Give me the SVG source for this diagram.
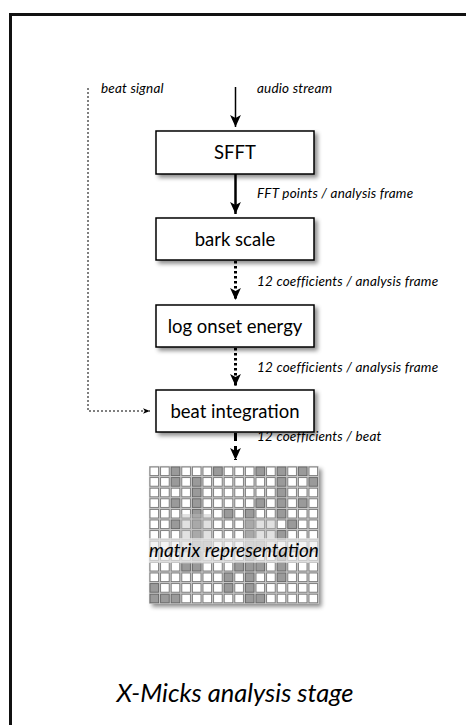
<svg xmlns="http://www.w3.org/2000/svg" width="466" height="725" viewBox="0 0 466 725">
<style>
.box{fill:#fff;stroke:#000;stroke-width:1.5}
.nt{font-family:Lato,"Open Sans",sans-serif;font-size:18.5px;fill:#000;text-anchor:middle}
.lb{font-family:Lato,"Open Sans",sans-serif;font-style:italic;font-size:13.5px;letter-spacing:0.2px;fill:#000}
.w{fill:#fff;stroke:#777;stroke-width:0.9}
.g{fill:#9a9a9a;stroke:#666;stroke-width:0.9}
</style>
<defs>
<filter id="sh" x="-10%" y="-10%" width="130%" height="150%">
<feGaussianBlur in="SourceAlpha" stdDeviation="2.2"/>
<feOffset dx="3" dy="3" result="b"/>
<feFlood flood-color="#000" flood-opacity="0.45"/>
<feComposite in2="b" operator="in"/>
<feMerge><feMergeNode/><feMergeNode in="SourceGraphic"/></feMerge>
</filter>
<marker id="ah" markerUnits="userSpaceOnUse" markerWidth="12" markerHeight="12" refX="10" refY="5" orient="auto" viewBox="0 0 10 10">
<path d="M0,0.5 L10,5 L0,9.5 L2.5,5 z" fill="#000"/>
</marker>
<marker id="as" markerUnits="userSpaceOnUse" markerWidth="7" markerHeight="7" refX="10" refY="5" orient="auto" viewBox="0 0 10 10">
<path d="M0,1 L10,5 L0,9 L2.5,5 z" fill="#000"/>
</marker>
</defs>
<path d="M10.5,725 V14.5 H466" fill="none" stroke="#111" stroke-width="3"/>

<g id="connectors" fill="none" stroke="#000">
<path d="M88,88 V411 H150" stroke-width="1" stroke-dasharray="2,2" marker-end="url(#as)"/>
<path d="M235.5,87 V127" stroke-width="1.5" marker-end="url(#ah)"/>
<path d="M235.5,174 V214" stroke-width="2.5" marker-end="url(#ah)"/>
<path d="M235.5,261 V300" stroke-width="3" stroke-dasharray="2.5,2.5" marker-end="url(#ah)"/>
<path d="M235.5,348 V386" stroke-width="3" stroke-dasharray="2.5,2.5" marker-end="url(#ah)"/>
<path d="M235.5,433 V460" stroke-width="3" stroke-dasharray="8,5" marker-end="url(#ah)"/>
</g>

<g id="labels">
<text class="lb" x="101" y="93">beat signal</text>
<text class="lb" x="257" y="93">audio stream</text>
<text class="lb" x="257" y="198">FFT points / analysis frame</text>
<text class="lb" x="257" y="286">12 coefficients / analysis frame</text>
<text class="lb" x="257" y="372">12 coefficients / analysis frame</text>
<text class="lb" x="257" y="441">12 coefficients / beat</text>
</g>

<g id="sfft"><rect class="box" x="156" y="131" width="158" height="43" filter="url(#sh)"/><text class="nt" x="235" y="159">SFFT</text></g>
<g id="bark"><rect class="box" x="156" y="218" width="158" height="42" filter="url(#sh)"/><text class="nt" x="235" y="245.5">bark scale</text></g>
<g id="logonset"><rect class="box" x="156" y="305" width="158" height="42" filter="url(#sh)"/><text class="nt" x="235" y="332.5">log onset energy</text></g>
<g id="beatint"><rect class="box" x="156" y="390" width="158" height="42" filter="url(#sh)"/><text class="nt" x="235" y="417.5">beat integration</text></g>

<g id="matrix">
<rect x="149" y="466" width="169.6" height="137.8" fill="#c8c8c8" filter="url(#sh)"/>
<g transform="translate(149,466)">
<g transform="translate(0,0)">
<rect class="w" x="1" y="1" width="8.6" height="8.6"/><rect class="w" x="11.6" y="1" width="8.6" height="8.6"/><rect class="g" x="22.2" y="1" width="8.6" height="8.6"/><rect class="w" x="32.8" y="1" width="8.6" height="8.6"/><rect class="w" x="43.4" y="1" width="8.6" height="8.6"/><rect class="w" x="54" y="1" width="8.6" height="8.6"/><rect class="g" x="64.6" y="1" width="8.6" height="8.6"/><rect class="w" x="75.2" y="1" width="8.6" height="8.6"/><rect class="w" x="85.8" y="1" width="8.6" height="8.6"/><rect class="w" x="96.4" y="1" width="8.6" height="8.6"/><rect class="g" x="107" y="1" width="8.6" height="8.6"/><rect class="w" x="117.6" y="1" width="8.6" height="8.6"/><rect class="g" x="128.2" y="1" width="8.6" height="8.6"/><rect class="w" x="138.8" y="1" width="8.6" height="8.6"/><rect class="g" x="149.4" y="1" width="8.6" height="8.6"/><rect class="w" x="160" y="1" width="8.6" height="8.6"/>
</g>
<g transform="translate(0,10.6)">
<rect class="w" x="1" y="1" width="8.6" height="8.6"/><rect class="w" x="11.6" y="1" width="8.6" height="8.6"/><rect class="g" x="22.2" y="1" width="8.6" height="8.6"/><rect class="w" x="32.8" y="1" width="8.6" height="8.6"/><rect class="g" x="43.4" y="1" width="8.6" height="8.6"/><rect class="w" x="54" y="1" width="8.6" height="8.6"/><rect class="w" x="64.6" y="1" width="8.6" height="8.6"/><rect class="w" x="75.2" y="1" width="8.6" height="8.6"/><rect class="w" x="85.8" y="1" width="8.6" height="8.6"/><rect class="w" x="96.4" y="1" width="8.6" height="8.6"/><rect class="w" x="107" y="1" width="8.6" height="8.6"/><rect class="w" x="117.6" y="1" width="8.6" height="8.6"/><rect class="g" x="128.2" y="1" width="8.6" height="8.6"/><rect class="w" x="138.8" y="1" width="8.6" height="8.6"/><rect class="w" x="149.4" y="1" width="8.6" height="8.6"/><rect class="g" x="160" y="1" width="8.6" height="8.6"/>
</g>
<g transform="translate(0,21.2)">
<rect class="w" x="1" y="1" width="8.6" height="8.6"/><rect class="w" x="11.6" y="1" width="8.6" height="8.6"/><rect class="w" x="22.2" y="1" width="8.6" height="8.6"/><rect class="w" x="32.8" y="1" width="8.6" height="8.6"/><rect class="g" x="43.4" y="1" width="8.6" height="8.6"/><rect class="w" x="54" y="1" width="8.6" height="8.6"/><rect class="w" x="64.6" y="1" width="8.6" height="8.6"/><rect class="w" x="75.2" y="1" width="8.6" height="8.6"/><rect class="w" x="85.8" y="1" width="8.6" height="8.6"/><rect class="w" x="96.4" y="1" width="8.6" height="8.6"/><rect class="w" x="107" y="1" width="8.6" height="8.6"/><rect class="w" x="117.6" y="1" width="8.6" height="8.6"/><rect class="g" x="128.2" y="1" width="8.6" height="8.6"/><rect class="w" x="138.8" y="1" width="8.6" height="8.6"/><rect class="w" x="149.4" y="1" width="8.6" height="8.6"/><rect class="w" x="160" y="1" width="8.6" height="8.6"/>
</g>
<g transform="translate(0,31.8)">
<rect class="w" x="1" y="1" width="8.6" height="8.6"/><rect class="w" x="11.6" y="1" width="8.6" height="8.6"/><rect class="g" x="22.2" y="1" width="8.6" height="8.6"/><rect class="w" x="32.8" y="1" width="8.6" height="8.6"/><rect class="g" x="43.4" y="1" width="8.6" height="8.6"/><rect class="w" x="54" y="1" width="8.6" height="8.6"/><rect class="w" x="64.6" y="1" width="8.6" height="8.6"/><rect class="w" x="75.2" y="1" width="8.6" height="8.6"/><rect class="w" x="85.8" y="1" width="8.6" height="8.6"/><rect class="w" x="96.4" y="1" width="8.6" height="8.6"/><rect class="g" x="107" y="1" width="8.6" height="8.6"/><rect class="w" x="117.6" y="1" width="8.6" height="8.6"/><rect class="g" x="128.2" y="1" width="8.6" height="8.6"/><rect class="w" x="138.8" y="1" width="8.6" height="8.6"/><rect class="g" x="149.4" y="1" width="8.6" height="8.6"/><rect class="w" x="160" y="1" width="8.6" height="8.6"/>
</g>
<g transform="translate(0,42.4)">
<rect class="w" x="1" y="1" width="8.6" height="8.6"/><rect class="w" x="11.6" y="1" width="8.6" height="8.6"/><rect class="w" x="22.2" y="1" width="8.6" height="8.6"/><rect class="w" x="32.8" y="1" width="8.6" height="8.6"/><rect class="g" x="43.4" y="1" width="8.6" height="8.6"/><rect class="w" x="54" y="1" width="8.6" height="8.6"/><rect class="w" x="64.6" y="1" width="8.6" height="8.6"/><rect class="g" x="75.2" y="1" width="8.6" height="8.6"/><rect class="w" x="85.8" y="1" width="8.6" height="8.6"/><rect class="g" x="96.4" y="1" width="8.6" height="8.6"/><rect class="w" x="107" y="1" width="8.6" height="8.6"/><rect class="w" x="117.6" y="1" width="8.6" height="8.6"/><rect class="g" x="128.2" y="1" width="8.6" height="8.6"/><rect class="w" x="138.8" y="1" width="8.6" height="8.6"/><rect class="w" x="149.4" y="1" width="8.6" height="8.6"/><rect class="w" x="160" y="1" width="8.6" height="8.6"/>
</g>
<g transform="translate(0,53)">
<rect class="w" x="1" y="1" width="8.6" height="8.6"/><rect class="w" x="11.6" y="1" width="8.6" height="8.6"/><rect class="g" x="22.2" y="1" width="8.6" height="8.6"/><rect class="w" x="32.8" y="1" width="8.6" height="8.6"/><rect class="g" x="43.4" y="1" width="8.6" height="8.6"/><rect class="w" x="54" y="1" width="8.6" height="8.6"/><rect class="w" x="64.6" y="1" width="8.6" height="8.6"/><rect class="w" x="75.2" y="1" width="8.6" height="8.6"/><rect class="w" x="85.8" y="1" width="8.6" height="8.6"/><rect class="g" x="96.4" y="1" width="8.6" height="8.6"/><rect class="w" x="107" y="1" width="8.6" height="8.6"/><rect class="w" x="117.6" y="1" width="8.6" height="8.6"/><rect class="w" x="128.2" y="1" width="8.6" height="8.6"/><rect class="g" x="138.8" y="1" width="8.6" height="8.6"/><rect class="w" x="149.4" y="1" width="8.6" height="8.6"/><rect class="w" x="160" y="1" width="8.6" height="8.6"/>
</g>
<g transform="translate(0,63.6)">
<rect class="w" x="1" y="1" width="8.6" height="8.6"/><rect class="w" x="11.6" y="1" width="8.6" height="8.6"/><rect class="w" x="22.2" y="1" width="8.6" height="8.6"/><rect class="w" x="32.8" y="1" width="8.6" height="8.6"/><rect class="g" x="43.4" y="1" width="8.6" height="8.6"/><rect class="w" x="54" y="1" width="8.6" height="8.6"/><rect class="w" x="64.6" y="1" width="8.6" height="8.6"/><rect class="w" x="75.2" y="1" width="8.6" height="8.6"/><rect class="w" x="85.8" y="1" width="8.6" height="8.6"/><rect class="g" x="96.4" y="1" width="8.6" height="8.6"/><rect class="w" x="107" y="1" width="8.6" height="8.6"/><rect class="w" x="117.6" y="1" width="8.6" height="8.6"/><rect class="g" x="128.2" y="1" width="8.6" height="8.6"/><rect class="w" x="138.8" y="1" width="8.6" height="8.6"/><rect class="w" x="149.4" y="1" width="8.6" height="8.6"/><rect class="w" x="160" y="1" width="8.6" height="8.6"/>
</g>
<g transform="translate(0,74.2)">
<rect class="w" x="1" y="1" width="8.6" height="8.6"/><rect class="w" x="11.6" y="1" width="8.6" height="8.6"/><rect class="w" x="22.2" y="1" width="8.6" height="8.6"/><rect class="w" x="32.8" y="1" width="8.6" height="8.6"/><rect class="g" x="43.4" y="1" width="8.6" height="8.6"/><rect class="g" x="54" y="1" width="8.6" height="8.6"/><rect class="w" x="64.6" y="1" width="8.6" height="8.6"/><rect class="w" x="75.2" y="1" width="8.6" height="8.6"/><rect class="w" x="85.8" y="1" width="8.6" height="8.6"/><rect class="g" x="96.4" y="1" width="8.6" height="8.6"/><rect class="g" x="107" y="1" width="8.6" height="8.6"/><rect class="w" x="117.6" y="1" width="8.6" height="8.6"/><rect class="w" x="128.2" y="1" width="8.6" height="8.6"/><rect class="w" x="138.8" y="1" width="8.6" height="8.6"/><rect class="w" x="149.4" y="1" width="8.6" height="8.6"/><rect class="w" x="160" y="1" width="8.6" height="8.6"/>
</g>
<g transform="translate(0,84.8)">
<rect class="w" x="1" y="1" width="8.6" height="8.6"/><rect class="w" x="11.6" y="1" width="8.6" height="8.6"/><rect class="w" x="22.2" y="1" width="8.6" height="8.6"/><rect class="w" x="32.8" y="1" width="8.6" height="8.6"/><rect class="g" x="43.4" y="1" width="8.6" height="8.6"/><rect class="w" x="54" y="1" width="8.6" height="8.6"/><rect class="w" x="64.6" y="1" width="8.6" height="8.6"/><rect class="w" x="75.2" y="1" width="8.6" height="8.6"/><rect class="w" x="85.8" y="1" width="8.6" height="8.6"/><rect class="g" x="96.4" y="1" width="8.6" height="8.6"/><rect class="w" x="107" y="1" width="8.6" height="8.6"/><rect class="w" x="117.6" y="1" width="8.6" height="8.6"/><rect class="g" x="128.2" y="1" width="8.6" height="8.6"/><rect class="w" x="138.8" y="1" width="8.6" height="8.6"/><rect class="w" x="149.4" y="1" width="8.6" height="8.6"/><rect class="w" x="160" y="1" width="8.6" height="8.6"/>
</g>
<g transform="translate(0,95.4)">
<rect class="w" x="1" y="1" width="8.6" height="8.6"/><rect class="w" x="11.6" y="1" width="8.6" height="8.6"/><rect class="w" x="22.2" y="1" width="8.6" height="8.6"/><rect class="g" x="32.8" y="1" width="8.6" height="8.6"/><rect class="g" x="43.4" y="1" width="8.6" height="8.6"/><rect class="w" x="54" y="1" width="8.6" height="8.6"/><rect class="w" x="64.6" y="1" width="8.6" height="8.6"/><rect class="w" x="75.2" y="1" width="8.6" height="8.6"/><rect class="g" x="85.8" y="1" width="8.6" height="8.6"/><rect class="g" x="96.4" y="1" width="8.6" height="8.6"/><rect class="g" x="107" y="1" width="8.6" height="8.6"/><rect class="w" x="117.6" y="1" width="8.6" height="8.6"/><rect class="g" x="128.2" y="1" width="8.6" height="8.6"/><rect class="w" x="138.8" y="1" width="8.6" height="8.6"/><rect class="w" x="149.4" y="1" width="8.6" height="8.6"/><rect class="w" x="160" y="1" width="8.6" height="8.6"/>
</g>
<g transform="translate(0,106)">
<rect class="w" x="1" y="1" width="8.6" height="8.6"/><rect class="w" x="11.6" y="1" width="8.6" height="8.6"/><rect class="w" x="22.2" y="1" width="8.6" height="8.6"/><rect class="w" x="32.8" y="1" width="8.6" height="8.6"/><rect class="w" x="43.4" y="1" width="8.6" height="8.6"/><rect class="w" x="54" y="1" width="8.6" height="8.6"/><rect class="w" x="64.6" y="1" width="8.6" height="8.6"/><rect class="g" x="75.2" y="1" width="8.6" height="8.6"/><rect class="w" x="85.8" y="1" width="8.6" height="8.6"/><rect class="g" x="96.4" y="1" width="8.6" height="8.6"/><rect class="w" x="107" y="1" width="8.6" height="8.6"/><rect class="w" x="117.6" y="1" width="8.6" height="8.6"/><rect class="g" x="128.2" y="1" width="8.6" height="8.6"/><rect class="w" x="138.8" y="1" width="8.6" height="8.6"/><rect class="w" x="149.4" y="1" width="8.6" height="8.6"/><rect class="w" x="160" y="1" width="8.6" height="8.6"/>
</g>
<g transform="translate(0,116.6)">
<rect class="g" x="1" y="1" width="8.6" height="8.6"/><rect class="w" x="11.6" y="1" width="8.6" height="8.6"/><rect class="w" x="22.2" y="1" width="8.6" height="8.6"/><rect class="w" x="32.8" y="1" width="8.6" height="8.6"/><rect class="w" x="43.4" y="1" width="8.6" height="8.6"/><rect class="w" x="54" y="1" width="8.6" height="8.6"/><rect class="w" x="64.6" y="1" width="8.6" height="8.6"/><rect class="g" x="75.2" y="1" width="8.6" height="8.6"/><rect class="w" x="85.8" y="1" width="8.6" height="8.6"/><rect class="g" x="96.4" y="1" width="8.6" height="8.6"/><rect class="w" x="107" y="1" width="8.6" height="8.6"/><rect class="w" x="117.6" y="1" width="8.6" height="8.6"/><rect class="w" x="128.2" y="1" width="8.6" height="8.6"/><rect class="w" x="138.8" y="1" width="8.6" height="8.6"/><rect class="w" x="149.4" y="1" width="8.6" height="8.6"/><rect class="w" x="160" y="1" width="8.6" height="8.6"/>
</g>
<g transform="translate(0,127.2)">
<rect class="g" x="1" y="1" width="8.6" height="8.6"/><rect class="g" x="11.6" y="1" width="8.6" height="8.6"/><rect class="g" x="22.2" y="1" width="8.6" height="8.6"/><rect class="w" x="32.8" y="1" width="8.6" height="8.6"/><rect class="w" x="43.4" y="1" width="8.6" height="8.6"/><rect class="w" x="54" y="1" width="8.6" height="8.6"/><rect class="w" x="64.6" y="1" width="8.6" height="8.6"/><rect class="w" x="75.2" y="1" width="8.6" height="8.6"/><rect class="w" x="85.8" y="1" width="8.6" height="8.6"/><rect class="g" x="96.4" y="1" width="8.6" height="8.6"/><rect class="g" x="107" y="1" width="8.6" height="8.6"/><rect class="w" x="117.6" y="1" width="8.6" height="8.6"/><rect class="w" x="128.2" y="1" width="8.6" height="8.6"/><rect class="w" x="138.8" y="1" width="8.6" height="8.6"/><rect class="w" x="149.4" y="1" width="8.6" height="8.6"/><rect class="w" x="160" y="1" width="8.6" height="8.6"/>
</g>
<rect x="32" y="48" width="32" height="50" fill="#bdbdbd" opacity="0.45"/>
<rect x="96" y="52" width="31" height="30" fill="#bdbdbd" opacity="0.45"/>
<rect x="0" y="72" width="169.6" height="25" fill="#ececec" opacity="0.65"/>
</g>
<text x="234" y="557" font-family="Lato,'Open Sans',sans-serif" font-style="italic" font-size="19" text-anchor="middle" fill="#000">matrix representation</text>
</g>

<text x="235" y="702" font-family="Lato,'Open Sans',sans-serif" font-style="italic" font-size="25.5" text-anchor="middle" fill="#000">X-Micks analysis stage</text>
</svg>
